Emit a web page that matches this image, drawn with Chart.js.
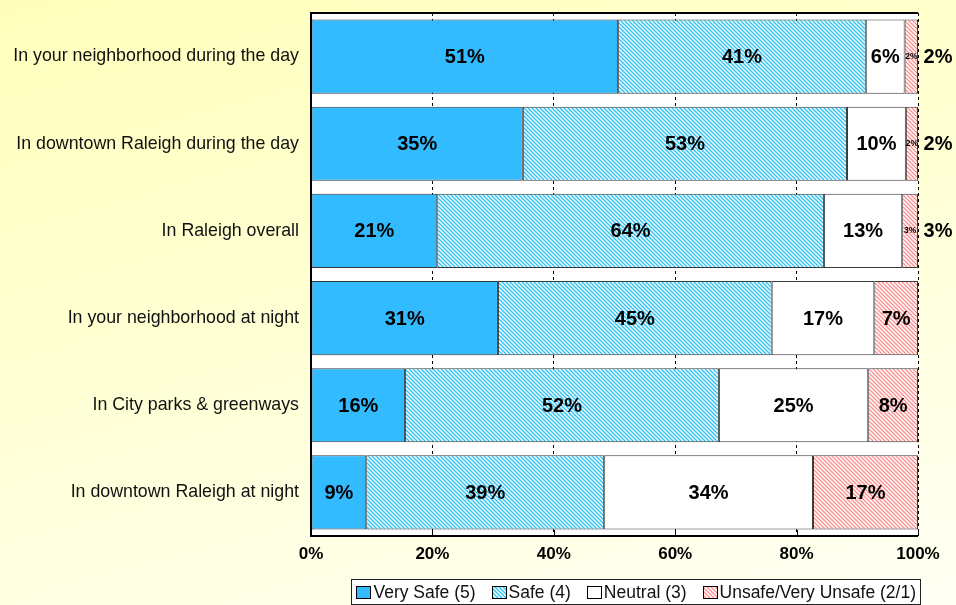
<!DOCTYPE html>
<html>
<head>
<meta charset="utf-8">
<script src="https://cdn.jsdelivr.net/npm/chart.js"></script>
<style>
html,body{margin:0;padding:0;overflow:hidden;}
body{width:956px;height:605px;background:linear-gradient(165deg,#ffffbc 0%,#ffffd6 50%,#fffff4 100%);}
canvas{display:block;}
</style>
</head>
<body>
<canvas id="chart" width="956" height="605"></canvas>
<script>
var categories = [
	"In your neighborhood during the day",
	"In downtown Raleigh during the day",
	"In Raleigh overall",
	"In your neighborhood at night",
	"In City parks & greenways",
	"In downtown Raleigh at night"
];
var seriesNames = ["Very Safe (5)", "Safe (4)", "Neutral (3)", "Unsafe/Very Unsafe (2/1)"];
var verySafe = [50.6, 34.9, 20.8, 30.8, 15.5, 9.1];
var safe     = [40.8, 53.4, 63.7, 45.1, 51.7, 39.2];
var neutral  = [6.4, 9.7, 12.9, 16.9, 24.6, 34.4];
var unsafe   = [2.2, 2.0, 2.6, 7.2, 8.2, 17.3];
var xTicks = [0, 20, 40, 60, 80, 100];

var FONT = "'Liberation Sans', Arial, sans-serif";
var canvas = document.getElementById("chart");
var mainCtx = canvas.getContext("2d");

// diagonal hatch tile, dir 1 = "\" , dir -1 = "/"
function makeHatch(color, size, lw, dir){
	var c = document.createElement("canvas");
	c.width = size; c.height = size;
	var g = c.getContext("2d");
	g.fillStyle = "#fff";
	g.fillRect(0, 0, size, size);
	g.strokeStyle = color;
	g.lineWidth = lw;
	g.beginPath();
	for(var k = -1; k <= 1; k++){
		if(dir > 0){
			g.moveTo(k*size - 1, -1); g.lineTo(k*size + size + 1, size + 1);
		} else {
			g.moveTo(k*size - 1, size + 1); g.lineTo(k*size + size + 1, -1);
		}
	}
	g.stroke();
	return mainCtx.createPattern(c, "repeat");
}

var safeFill = makeHatch("#33c4f4", 4, 1.5, 1);
var unsafeFill = makeHatch("#ff8f8f", 4, 1.3, 1);
var fills = ["#33bbff", safeFill, "#ffffff", unsafeFill];
var values = [verySafe, safe, neutral, unsafe];

var datasets = [];
for(var i = 0; i < seriesNames.length; i++){
	datasets.push({
		label: seriesNames[i],
		data: values[i],
		backgroundColor: fills[i],
		borderColor: "#3a3a3a",
		borderWidth: 1,
		borderSkipped: false,
		categoryPercentage: 0.85,
		barPercentage: 1.0
	});
}

var plotBg = {
	id: "plotBg",
	beforeDraw: function(chart){
		var a = chart.chartArea, ctx = chart.ctx;
		ctx.save();
		ctx.fillStyle = "#fff";
		ctx.fillRect(a.left, a.top, a.right - a.left, a.bottom - a.top);
		ctx.restore();
	}
};

var frameAndLabels = {
	id: "frameAndLabels",
	afterDatasetsDraw: function(chart){
		var a = chart.chartArea, ctx = chart.ctx;
		var xs = chart.scales.x;
		ctx.save();
		// frame
		ctx.strokeStyle = "#000";
		ctx.lineWidth = 2;
		ctx.beginPath();
		ctx.moveTo(xs.getPixelForValue(100), a.top);
		ctx.lineTo(a.left, a.top);
		ctx.lineTo(a.left, a.bottom);
		ctx.lineTo(xs.getPixelForValue(100), a.bottom);
		ctx.stroke();
		// little ticks inside bottom
		ctx.lineWidth = 1;
		for(var t = 0; t < xTicks.length; t++){
			var px = Math.round(xs.getPixelForValue(xTicks[t])) + 0.5;
			ctx.beginPath();
			ctx.moveTo(px, a.bottom - 6);
			ctx.lineTo(px, a.bottom);
			ctx.stroke();
		}
		// data labels
		ctx.fillStyle = "#000";
		ctx.textAlign = "center";
		ctx.textBaseline = "middle";
		chart.data.datasets.forEach(function(ds, di){
			var meta = chart.getDatasetMeta(di);
			meta.data.forEach(function(bar, i){
				var v = ds.data[i];
				var txt = Math.round(v) + "%";
				var cx = (bar.x + bar.base) / 2;
				if(v < 5){
					ctx.font = "bold 8.5px " + FONT;
					ctx.fillText(txt, cx, bar.y);
					ctx.font = "bold 20px " + FONT;
					ctx.fillText(txt, a.right + 20, bar.y + 1);
				} else {
					ctx.font = "bold 20px " + FONT;
					ctx.fillText(txt, cx, bar.y + 1);
				}
			});
		});
		ctx.restore();
	}
};

var boxLegend = {
	id: "boxLegend",
	afterDraw: function(chart){
		var ctx = chart.ctx;
		ctx.save();
		ctx.font = "17.5px " + FONT;
		var sw = 14, gapBox = 2, gapItem = 17, pad = 5;
		var widths = [], total = 0;
		for(var i = 0; i < seriesNames.length; i++){
			var w = sw + gapBox + ctx.measureText(seriesNames[i]).width;
			widths.push(w);
			total += w + (i < seriesNames.length - 1 ? gapItem : 0);
		}
		var right = 920, top = 579, h = 25;
		var left = right - total - pad * 2;
		ctx.fillStyle = "#fff";
		ctx.fillRect(left, top, right - left, h);
		ctx.strokeStyle = "#222";
		ctx.lineWidth = 1;
		ctx.strokeRect(Math.round(left) + 0.5, top + 0.5, Math.round(right - left), h);
		var x = left + pad, cy = top + h / 2 + 0.5;
		for(var i = 0; i < seriesNames.length; i++){
			ctx.fillStyle = fills[i];
			ctx.fillRect(Math.round(x), Math.round(cy - 6), sw, 12);
			ctx.strokeStyle = "#000";
			ctx.strokeRect(Math.round(x) + 0.5, Math.round(cy - 6) + 0.5, sw, 12);
			ctx.fillStyle = "#111";
			ctx.textAlign = "left";
			ctx.textBaseline = "middle";
			ctx.fillText(seriesNames[i], x + sw + gapBox + 1, cy + 1);
			x += widths[i] + gapItem;
		}
		ctx.restore();
	}
};

var myChart = new Chart(canvas, {
	type: "bar",
	data: {
		labels: categories,
		datasets: datasets
	},
	options: {
		indexAxis: "y",
		responsive: false,
		animation: false,
		devicePixelRatio: 1,
		layout: { padding: { top: 13, right: 38, left: 0, bottom: 0 } },
		plugins: {
			legend: { display: false },
			tooltip: { enabled: false }
		},
		scales: {
			x: {
				stacked: true,
				min: 0,
				max: 100,
				afterBuildTicks: function(scale){
					scale.ticks = xTicks.map(function(v){ return { value: v }; });
				},
				afterFit: function(scale){
					scale.height = 605 - 536;
					scale.paddingLeft = 0;
					scale.paddingRight = 0;
				},
				ticks: {
					callback: function(v){ return v + "%"; },
					color: "#000",
					padding: 8,
					font: { family: FONT, size: 17, weight: "bold" }
				},
				grid: { color: "#000", lineWidth: 1, drawTicks: false },
				border: { display: false, dash: [3, 3] }
			},
			y: {
				stacked: true,
				afterFit: function(scale){
					scale.width = 311;
					scale.paddingTop = 0;
					scale.paddingBottom = 0;
				},
				grid: { display: false, drawTicks: false },
				border: { display: false },
				ticks: {
					color: "#111",
					padding: 12,
					font: { family: FONT, size: 17.8 }
				}
			}
		}
	},
	plugins: [plotBg, frameAndLabels, boxLegend]
});
</script>
</body>
</html>
